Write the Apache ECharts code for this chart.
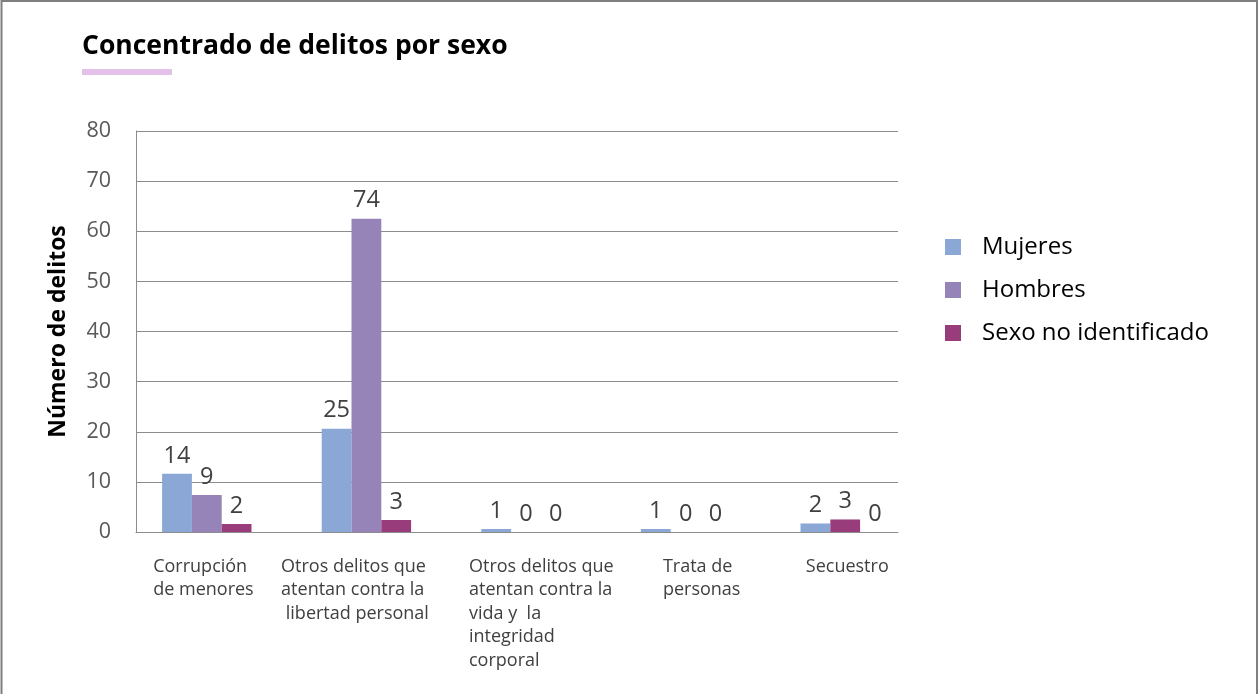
<!DOCTYPE html>
<html>
<head>
<meta charset="utf-8">
<script src="https://cdn.jsdelivr.net/npm/echarts@6/dist/echarts.min.js"></script>
<style>
html,body{margin:0;padding:0;background:#fff;}
#chart{width:1260px;height:694px;}
</style>
</head>
<body>
<div id="chart"></div>
<script>
// ---- data ----
const categories = [
  "Corrupción\nde menores",
  "Otros delitos que\natentan contra la\n libertad personal",
  "Otros delitos que\natentan contra la\nvida y  la\nintegridad\ncorporal",
  "Trata de\npersonas",
  "Secuestro"
];
const seriesNames = ["Mujeres", "Hombres", "Sexo no identificado"];
// bar heights as drawn against the 0-80 axis
const mujeresBars = [11.6, 20.6, 0.6, 0.6, 1.7];
const hombresBars = [7.4, 62.5, 0, 0, 2.5];
const sexoNoIdBars = [1.6, 2.4, 0, 0, 0];
// value labels printed above bars
const mujeresLabels = [14, 25, 1, 1, 2];
const hombresLabels = [9, 74, 0, 0, 3];
const sexoNoIdLabels = [2, 3, 0, 0, 0];
const yTicks = [0, 10, 20, 30, 40, 50, 60, 70, 80];

// ---- styling ----
const FONT = "Open Sans";
const COLORS = ["#8aa7d6", "#9683b8", "#983c7b"];
const labelWidths = [118, 167, 96, 13, 32];

const chart = echarts.init(document.getElementById('chart'));

const rich = {};
labelWidths.forEach((w, i) => {
  rich['c' + i] = {width: w, align: 'left', fontFamily: FONT, fontSize: 18, color: '#404040', lineHeight: 23.5};
});

function makeSeries(name, bars, labels, idx) {
  return {
    name: name,
    type: 'bar',
    xAxisIndex: 1,
    yAxisIndex: 1,
    barGap: '0%',
    barCategoryGap: '44%',
    data: bars,
    itemStyle: {
      color: idx === 1
        ? (p => categories[p.dataIndex] === 'Secuestro' ? COLORS[2] : COLORS[1])
        : COLORS[idx]
    },
    label: {
      show: true,
      position: 'top',
      distance: 6,
      fontFamily: FONT,
      fontSize: 23.5,
      color: '#404040',
      formatter: p => String(labels[p.dataIndex])
    }
  };
}

const option = {
  animation: false,
  backgroundColor: '#fff',
  title: {
    text: 'Concentrado de delitos por sexo',
    left: 77,
    top: 28,
    textStyle: {fontFamily: FONT, fontWeight: 'bold', fontSize: 26.5, color: '#000'}
  },
  graphic: [
    {type: 'rect', shape: {x: 82, y: 69, width: 90, height: 6}, style: {fill: '#e4c1e9'}, silent: true},
    {type: 'rect', shape: {x: 1.5, y: 1, width: 1255.5, height: 700}, style: {fill: 'none', stroke: '#7f7f7f', lineWidth: 2}, silent: true}
  ],
  legend: {
    orient: 'vertical',
    left: 940,
    top: 229,
    itemWidth: 16,
    itemHeight: 16,
    itemGap: 17,
    icon: 'rect',
    data: seriesNames.map((n, i) => ({name: n, itemStyle: {color: COLORS[i]}})),
    textStyle: {fontFamily: FONT, fontSize: 24, color: '#000', lineHeight: 26, padding: [0, 0, 0, 16]}
  },
  grid: [
    {left: 136, right: 362, top: 131, bottom: 162},
    {left: 127, right: 335, top: 131, bottom: 162}
  ],
  xAxis: [
    {
      type: 'category',
      gridIndex: 0,
      data: categories,
      axisLine: {show: true, lineStyle: {color: '#8c8c8c', width: 1}},
      axisTick: {show: false},
      axisLabel: {
        interval: 0,
        margin: 23,
        align: 'center',
        verticalAlign: 'top',
        formatter: (v, i) => '{c' + i + '|' + v + '}',
        rich: rich
      }
    },
    {
      type: 'category',
      gridIndex: 1,
      data: categories,
      show: false
    }
  ],
  yAxis: [
    {
      type: 'value',
      gridIndex: 0,
      min: yTicks[0],
      max: yTicks[yTicks.length - 1],
      interval: 10,
      name: 'Número de delitos',
      nameLocation: 'middle',
      nameGap: 66,
      nameTextStyle: {fontFamily: FONT, fontWeight: 'bold', fontSize: 23, color: '#000'},
      axisLine: {show: true, lineStyle: {color: '#8c8c8c', width: 1}},
      axisTick: {show: false},
      axisLabel: {fontFamily: FONT, fontSize: 21.5, color: '#595959', margin: 25},
      splitLine: {show: true, lineStyle: {color: '#8c8c8c', width: 1}}
    },
    {
      type: 'value',
      gridIndex: 1,
      min: yTicks[0],
      max: yTicks[yTicks.length - 1],
      show: false,
      splitLine: {show: false}
    }
  ],
  series: [
    makeSeries(seriesNames[0], mujeresBars, mujeresLabels, 0),
    makeSeries(seriesNames[1], hombresBars, hombresLabels, 1),
    makeSeries(seriesNames[2], sexoNoIdBars, sexoNoIdLabels, 2)
  ]
};
chart.setOption(option);
</script>
</body>
</html>
